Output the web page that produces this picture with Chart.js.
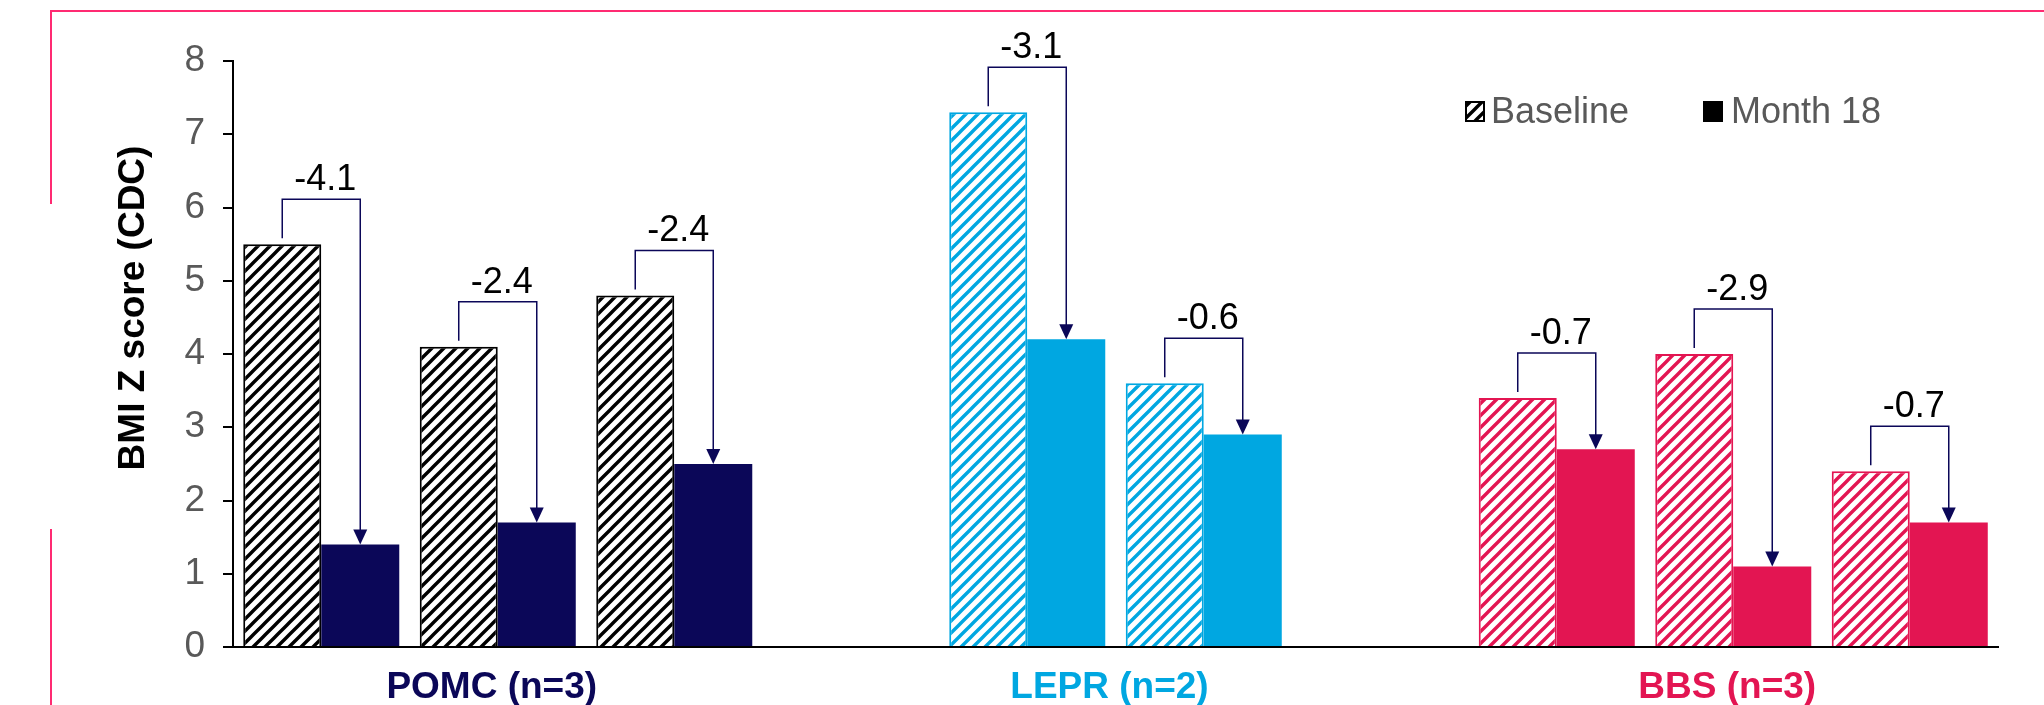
<!DOCTYPE html>
<html>
<head>
<meta charset="utf-8">
<script src="https://cdn.jsdelivr.net/npm/chart.js@4/dist/chart.umd.min.js"></script>
<style>
  body { margin: 0; background: #fff; }
  #wrap { width: 2044px; height: 705px; position: relative; }
</style>
</head>
<body>
<div id="wrap"><canvas id="chart"></canvas></div>
<script>
// one slot per patient, empty slots separate the groups
const slots = ['POMC 1', 'POMC 2', 'POMC 3', '', 'LEPR 1', 'LEPR 2', '', 'BBS 1', 'BBS 2', 'BBS 3'];
const baseline = [5.5, 4.1, 4.8, null, 7.3, 3.6, null, 3.4, 4.0, 2.4];
const month18 = [1.4, 1.7, 2.5, null, 4.2, 2.9, null, 2.7, 1.1, 1.7];
const changes = ['-4.1', '-2.4', '-2.4', null, '-3.1', '-0.6', null, '-0.7', '-2.9', '-0.7'];
const slotGroup = [0, 0, 0, null, 1, 1, null, 2, 2, 2];

const groupNames = ['POMC (n=3)', 'LEPR (n=2)', 'BBS (n=3)'];
const groupColors = ['#0b0758', '#00a7e1', '#e31552'];
const hatchColors = ['#000000', '#00a7e1', '#e31552'];
const yTicks = [0, 1, 2, 3, 4, 5, 6, 7, 8];

const FONT = "'Liberation Sans', Arial, sans-serif";
const NAVY = '#0b0758';

function hatch(color) {
  const s = 12;
  const c = document.createElement('canvas');
  c.width = c.height = s;
  const g = c.getContext('2d');
  g.fillStyle = '#fff';
  g.fillRect(0, 0, s, s);
  g.strokeStyle = color;
  g.lineWidth = 3.4;
  g.beginPath();
  g.moveTo(0, s); g.lineTo(s, 0);
  g.moveTo(-2, 2); g.lineTo(2, -2);
  g.moveTo(s - 2, s + 2); g.lineTo(s + 2, s - 2);
  g.stroke();
  return g.createPattern(c, 'repeat');
}

const patterns = hatchColors.map(hatch);
const baseFill = slotGroup.map(g => g === null ? 'rgba(0,0,0,0)' : patterns[g]);
const baseBorder = slotGroup.map(g => g === null ? 'rgba(0,0,0,0)' : hatchColors[g]);
const monthFill = slotGroup.map(g => g === null ? 'rgba(0,0,0,0)' : groupColors[g]);

const extras = {
  id: 'extras',
  beforeDraw(chart) {
    const ctx = chart.ctx;
    // pink frame
    ctx.save();
    ctx.strokeStyle = '#ff2a72';
    ctx.lineWidth = 2;
    ctx.beginPath();
    ctx.moveTo(51, 204); ctx.lineTo(51, 11); ctx.lineTo(2044, 11);
    ctx.moveTo(51, 529); ctx.lineTo(51, 705);
    ctx.stroke();
    ctx.restore();
  },
  afterDraw(chart) {
    const ctx = chart.ctx;
    const base = chart.getDatasetMeta(0).data;
    const month = chart.getDatasetMeta(1).data;
    const x = chart.scales.x;
    ctx.save();

    // change brackets with arrows
    changes.forEach((txt, i) => {
      if (txt === null) return;
      const b = base[i], m = month[i];
      const top = b.y - 45;
      ctx.strokeStyle = NAVY;
      ctx.lineWidth = 1.5;
      ctx.beginPath();
      ctx.moveTo(b.x, b.y - 6);
      ctx.lineTo(b.x, top);
      ctx.lineTo(m.x, top);
      ctx.lineTo(m.x, m.y - 14);
      ctx.stroke();
      ctx.fillStyle = NAVY;
      ctx.beginPath();
      ctx.moveTo(m.x - 7, m.y - 15);
      ctx.lineTo(m.x + 7, m.y - 15);
      ctx.lineTo(m.x, m.y);
      ctx.closePath();
      ctx.fill();
      ctx.fillStyle = '#000';
      ctx.font = '36px ' + FONT;
      ctx.textAlign = 'center';
      ctx.textBaseline = 'alphabetic';
      ctx.fillText(txt, (b.x + m.x) / 2 + 4, top - 9);
    });

    // group labels under the axis
    ctx.font = 'bold 37px ' + FONT;
    ctx.textAlign = 'center';
    ctx.textBaseline = 'alphabetic';
    groupNames.forEach((name, g) => {
      const idx = slotGroup.map((v, i) => v === g ? i : -1).filter(i => i >= 0);
      const mid = (idx[0] + idx[idx.length - 1]) / 2;
      ctx.fillStyle = groupColors[g];
      ctx.fillText(name, x.getPixelForValue(mid) - 6, 698);
    });

    // y axis title
    ctx.save();
    ctx.translate(134, 308);
    ctx.rotate(-Math.PI / 2);
    ctx.fillStyle = '#000';
    ctx.font = 'bold 37px ' + FONT;
    ctx.textAlign = 'center';
    ctx.textBaseline = 'middle';
    ctx.fillText('BMI Z score (CDC)', 0, 0);
    ctx.restore();

    // legend
    ctx.fillStyle = patterns[0];
    ctx.fillRect(1466, 102, 18, 19);
    ctx.strokeStyle = '#000';
    ctx.lineWidth = 2;
    ctx.strokeRect(1466, 102, 18, 19);
    ctx.fillStyle = '#000';
    ctx.fillRect(1703, 101, 20, 21);
    ctx.fillStyle = '#595959';
    ctx.font = '36px ' + FONT;
    ctx.textAlign = 'left';
    ctx.textBaseline = 'middle';
    ctx.fillText('Baseline', 1491, 113);
    ctx.fillText('Month 18', 1731, 113);

    ctx.restore();
  }
};

new Chart(document.getElementById('chart'), {
  type: 'bar',
  data: {
    labels: slots,
    datasets: [
      { label: 'Baseline', data: baseline, backgroundColor: baseFill, borderColor: baseBorder, borderWidth: 2, borderSkipped: 'start' },
      { label: 'Month 18', data: month18, backgroundColor: monthFill, borderWidth: 0 }
    ]
  },
  options: {
    responsive: true,
    maintainAspectRatio: false,
    animation: false,
    datasets: { bar: { categoryPercentage: 0.884, barPercentage: 1.0 } },
    layout: { padding: { left: 0, top: 61, right: 46, bottom: 0 } },
    plugins: { legend: { display: false }, tooltip: { enabled: false } },
    scales: {
      x: {
        grid: { display: false },
        border: { display: true, color: '#000', width: 2 },
        ticks: { display: false },
        afterFit(s) { s.height = 58; }
      },
      y: {
        min: 0,
        max: 8,
        afterBuildTicks(s) { s.ticks = yTicks.map(v => ({ value: v })); },
        grid: { drawOnChartArea: false, drawTicks: true, tickLength: 10, color: '#000', lineWidth: 2 },
        border: { display: true, color: '#000', width: 2 },
        ticks: { color: '#595959', font: { family: FONT, size: 37 }, padding: 18 },
        afterFit(s) { s.width = 233; }
      }
    }
  },
  plugins: [extras]
});
</script>
</body>
</html>
